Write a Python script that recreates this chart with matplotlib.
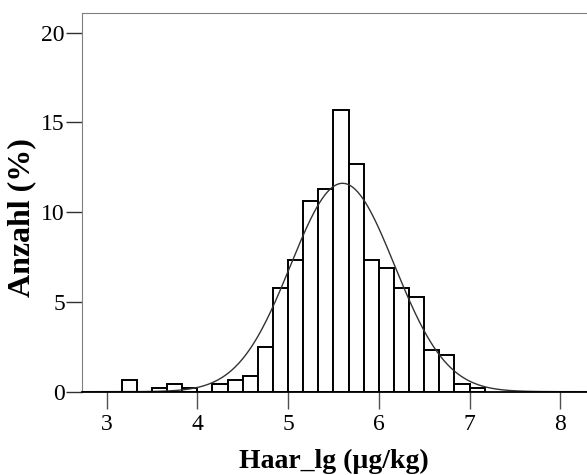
import numpy as np
import matplotlib
matplotlib.use("Agg")
import matplotlib.pyplot as plt

# histogram of Haar_lg, percent per bin (bin width 1/6)
bin_start = 19 / 6
bin_width = 1 / 6
pct = [0.67, 0.0, 0.22, 0.44, 0.22, 0.0, 0.44, 0.67, 0.89, 2.5,
       5.78, 7.33, 10.6, 11.3, 15.7, 12.7, 7.33, 6.9, 5.75, 5.3,
       2.3, 2.06, 0.44, 0.22]

# fitted normal curve
fit_mean = 5.60
fit_sd = 0.573

xticks = [3, 4, 5, 6, 7, 8]
yticks = [0, 5, 10, 15, 20]

plt.rcParams["font.family"] = ["Liberation Serif", "DejaVu Serif"]

fig = plt.figure(figsize=(5.87, 4.75), dpi=100)
ax = fig.add_axes([0.139, 0.1754, 0.861, 0.7966])

edges = bin_start + bin_width * np.arange(len(pct) + 1)
ax.bar(edges[:-1], pct, width=bin_width, align="edge",
       facecolor="white", edgecolor="black", linewidth=1.4, zorder=2)

xs = np.linspace(2.724, 8.3, 600)
ys = 100 * bin_width / (fit_sd * np.sqrt(2 * np.pi)) * np.exp(-0.5 * ((xs - fit_mean) / fit_sd) ** 2)
ax.plot(xs, ys, color="#333333", linewidth=1.0, zorder=3)

ax.set_xlim(2.724, 8.294)
ax.set_ylim(0, 21.07)
ax.set_xticks(xticks)
ax.set_yticks(yticks)

ax.spines["right"].set_visible(False)
ax.spines["top"].set_color("#808080")
ax.spines["left"].set_color("#808080")
ax.spines["bottom"].set_color("black")
ax.spines["bottom"].set_linewidth(1.3)
ax.spines["bottom"].set_zorder(4)

ax.tick_params(axis="x", length=12, width=1.0, color="#505050",
               labelsize=17, pad=4)
ax.tick_params(axis="y", length=11.5, width=1.0, color="#303030",
               labelsize=17, pad=0.5)

ax.set_xlabel("Haar_lg (µg/kg)", fontsize=20, fontweight="bold", labelpad=10)
ax.set_ylabel("Anzahl (%)", fontsize=23, fontweight="bold", labelpad=4)
ax.yaxis.label.set_y(0.461)

fig.savefig("out.png", dpi=100)
